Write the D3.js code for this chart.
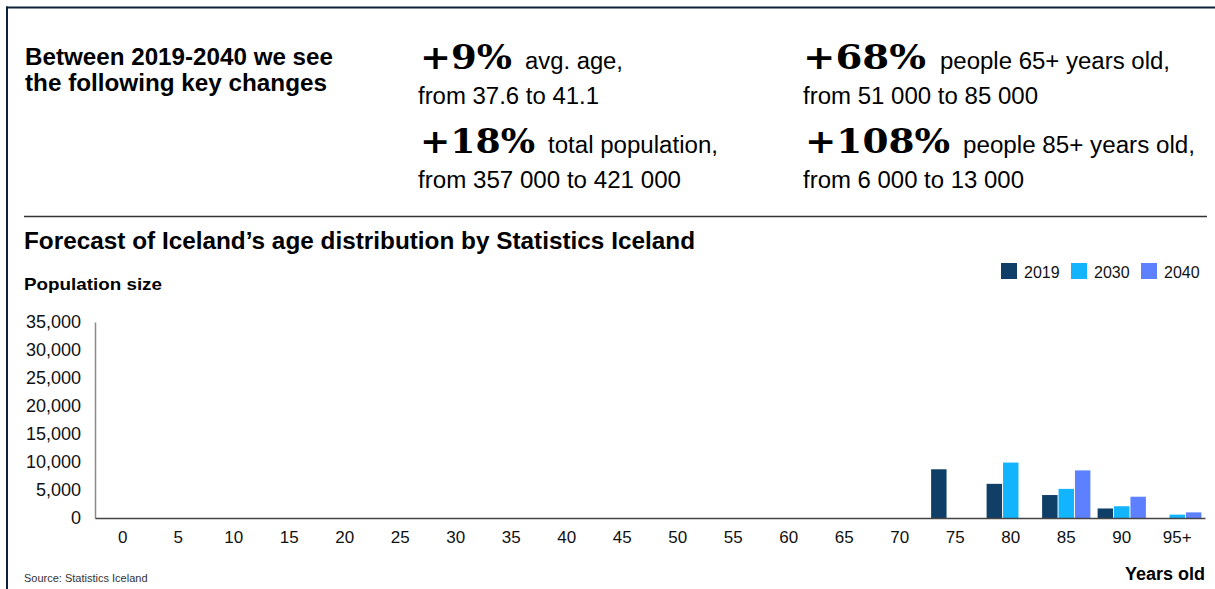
<!DOCTYPE html>
<html>
<head>
<meta charset="utf-8">
<script src="https://cdn.jsdelivr.net/npm/d3@7"></script>
<style>
  html, body { margin: 0; padding: 0; background: #fff; }
  svg { display: block; font-family: "Liberation Sans", Arial, sans-serif; }
</style>
</head>
<body>
<svg id="chart" width="1215" height="589"></svg>
<script>
// Age groups (5-year bands) and forecast years
const ages = ["0","5","10","15","20","25","30","35","40","45","50","55","60","65","70","75","80","85","90","95+"];
const years = ["2019","2030","2040"];

// Population per age group for each forecast year
const pop2019 = [0,0,0,0,0,0,0,0,0,0,0,0,0,0,0,8700,6100,4100,1700,0];
const pop2030 = [0,0,0,0,0,0,0,0,0,0,0,0,0,0,0,0,9900,5200,2100,600];
const pop2040 = [0,0,0,0,0,0,0,0,0,0,0,0,0,0,0,0,0,8500,3800,1000];

const yTicks = [0,5000,10000,15000,20000,25000,30000,35000];
const colors = ["#0f3f66", "#12b4fe", "#5c80ff"];

// Key-change call-outs: big figure, caption, and "from ... to ..." line
const highlights = [
  { big: "+9%",   bx: 420, bw: 92,  cap: "avg. age,",             cx: 525, cw: 98,  by: 69,  from: "from 37.6 to 41.1",       fx: 418, fw: 181, fy: 104 },
  { big: "+18%",  bx: 420, bw: 115, cap: "total population,",     cx: 548, cw: 170, by: 153, from: "from 357 000 to 421 000", fx: 418, fw: 263, fy: 188 },
  { big: "+68%",  bx: 803, bw: 123, cap: "people 65+ years old,", cx: 940, cw: 230, by: 69,  from: "from 51 000 to 85 000",   fx: 803, fw: 235, fy: 104 },
  { big: "+108%", bx: 805, bw: 145, cap: "people 85+ years old,", cx: 963, cw: 232, by: 153, from: "from 6 000 to 13 000",    fx: 803, fw: 221, fy: 188 }
];

const rows = ages.map((a, i) => ({ age: a, values: [pop2019[i], pop2030[i], pop2040[i]] }));

const svg = d3.select("#chart");

// Frame (top and left rules)
svg.append("line").attr("x1", 6).attr("x2", 1215).attr("y1", 7.5).attr("y2", 7.5)
  .attr("stroke", "#0e2237").attr("stroke-width", 2);
svg.append("line").attr("x1", 7).attr("x2", 7).attr("y1", 6.5).attr("y2", 589)
  .attr("stroke", "#0e2237").attr("stroke-width", 2);

// Header
const head = svg.append("g").attr("fill", "#000");
head.append("text").attr("x", 25).attr("y", 65).attr("font-size", 23).attr("font-weight", "bold")
  .attr("textLength", 308).attr("lengthAdjust", "spacingAndGlyphs").text("Between 2019-2040 we see");
head.append("text").attr("x", 25).attr("y", 91).attr("font-size", 23).attr("font-weight", "bold")
  .attr("textLength", 302).attr("lengthAdjust", "spacingAndGlyphs").text("the following key changes");

highlights.forEach(h => {
  head.append("text").attr("x", h.bx).attr("y", h.by)
    .attr("font-family", "'DejaVu Serif', 'Liberation Serif', serif")
    .attr("font-weight", "bold").attr("font-size", 34)
    .attr("textLength", h.bw).attr("lengthAdjust", "spacingAndGlyphs").text(h.big);
  head.append("text").attr("x", h.cx).attr("y", h.by).attr("font-size", 23)
    .attr("textLength", h.cw).attr("lengthAdjust", "spacingAndGlyphs").text(h.cap);
  head.append("text").attr("x", h.fx).attr("y", h.fy).attr("font-size", 23)
    .attr("textLength", h.fw).attr("lengthAdjust", "spacingAndGlyphs").text(h.from);
});

// Separator
svg.append("line").attr("x1", 24).attr("x2", 1207).attr("y1", 216.5).attr("y2", 216.5)
  .attr("stroke", "#333").attr("stroke-width", 1.5);

// Chart titles
svg.append("text").attr("x", 24).attr("y", 249).attr("font-size", 23).attr("font-weight", "bold")
  .attr("textLength", 671).attr("lengthAdjust", "spacingAndGlyphs")
  .text("Forecast of Iceland\u2019s age distribution by Statistics Iceland");
svg.append("text").attr("x", 24).attr("y", 290).attr("font-size", 17).attr("font-weight", "bold")
  .attr("textLength", 138).attr("lengthAdjust", "spacingAndGlyphs").text("Population size");

// Scales
const x0 = d3.scaleBand().domain(ages).range([95, 1205]).paddingInner(0.13).paddingOuter(0.065);
const x1 = d3.scaleBand().domain(years).range([0, x0.bandwidth()]).paddingInner(0.06);
const y = d3.scaleLinear().domain([0, 35000]).range([518, 322]);

// Bars
const groups = svg.append("g").selectAll("g").data(rows).join("g")
  .attr("transform", d => `translate(${x0(d.age)},0)`);
groups.selectAll("rect")
  .data(d => d.values.map((v, k) => ({ year: years[k], value: v, k })))
  .join("rect")
  .attr("x", d => x1(d.year))
  .attr("width", x1.bandwidth())
  .attr("y", d => y(d.value))
  .attr("height", d => y(0) - y(d.value))
  .attr("fill", d => colors[d.k]);

// Y axis
const yAxis = svg.append("g").attr("transform", "translate(95,0)")
  .call(d3.axisLeft(y).tickValues(yTicks).tickFormat(d3.format(",")).tickSize(0).tickPadding(14));
yAxis.select(".domain").attr("stroke", "#8a8a8a").attr("stroke-width", 1.5);
yAxis.selectAll("text").attr("font-size", 18).attr("fill", "#111")
  .attr("font-family", "'Liberation Sans', Arial, sans-serif");

// X axis
const xAxis = svg.append("g").attr("transform", "translate(0,518)")
  .call(d3.axisBottom(x0).tickSize(0).tickPadding(13));
xAxis.select(".domain").attr("stroke", "#444").attr("stroke-width", 1.5);
xAxis.selectAll("text").attr("font-size", 17).attr("fill", "#111")
  .attr("font-family", "'Liberation Sans', Arial, sans-serif");

// Legend
const legend = svg.append("g").selectAll("g").data(years).join("g")
  .attr("transform", (d, i) => `translate(${1001 + i * 70},263)`);
legend.append("rect").attr("width", 16).attr("height", 16).attr("fill", (d, i) => colors[i]);
legend.append("text").attr("x", 23).attr("y", 14.5).attr("font-size", 16).attr("fill", "#111").text(d => d);

// Axis title and source note
svg.append("text").attr("x", 1205).attr("y", 580).attr("text-anchor", "end")
  .attr("font-size", 18).attr("font-weight", "bold").text("Years old");
svg.append("text").attr("x", 24).attr("y", 582).attr("font-size", 11).attr("fill", "#333")
  .text("Source: Statistics Iceland");
</script>
</body>
</html>
